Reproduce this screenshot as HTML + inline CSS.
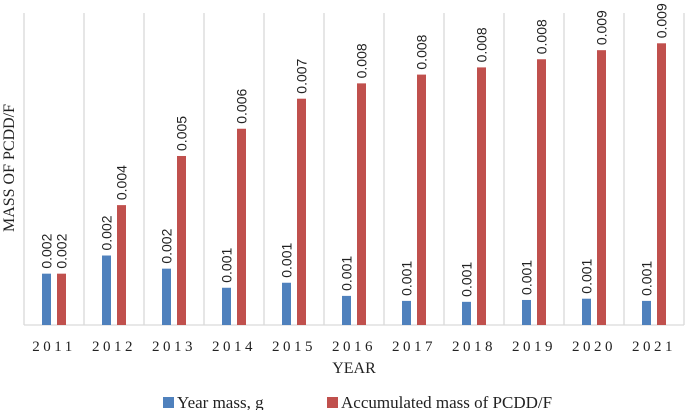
<!DOCTYPE html>
<html><head><meta charset="utf-8"><style>
body{margin:0;background:#fff;}
svg{display:block;}
</style></head><body>
<svg id="chart" width="685" height="410" xmlns="http://www.w3.org/2000/svg">
<g id="grid"></g>
<g id="bars"></g>
<g id="labels"></g>
<g id="xt"></g>
<text x="354" y="373" text-anchor="middle" font-family="Liberation Serif, serif" font-size="16" fill="#222">YEAR</text>
<text transform="translate(14,168) rotate(-90)" text-anchor="middle" font-family="Liberation Serif, serif" font-size="16" fill="#222">MASS OF PCDD/F</text>
<g>
<rect x="163" y="397" width="11" height="11" fill="#4f81bd"/>
<text x="177" y="408" font-family="Liberation Serif, serif" font-size="17" fill="#222">Year mass, g</text>
<rect x="327" y="397" width="11" height="11" fill="#c0504d"/>
<text x="341" y="408" font-family="Liberation Serif, serif" font-size="17" fill="#222">Accumulated mass of PCDD/F</text>
</g>
</svg>
<script>
const categories=["2011","2012","2013","2014","2015","2016","2017","2018","2019","2020","2021"];
const yearMass=[0.00164,0.00222,0.00180,0.00119,0.00135,0.00093,0.00077,0.00074,0.00080,0.00084,0.00077];
const accMass=[0.00164,0.00383,0.00540,0.00627,0.00723,0.00772,0.00800,0.00823,0.00849,0.00878,0.00900];
const yearLabels=["0.002","0.002","0.002","0.001","0.001","0.001","0.001","0.001","0.001","0.001","0.001"];
const accLabels=["0.002","0.004","0.005","0.006","0.007","0.008","0.008","0.008","0.008","0.009","0.009"];
const NS="http://www.w3.org/2000/svg";
const plotLeft=24,plotRight=684,plotBase=325,plotTop=13,yMax=0.01;
const bw=(plotRight-plotLeft)/categories.length;
const xs=i=>plotLeft+i*bw;
const ys=v=>plotBase-v/yMax*(plotBase-plotTop+1);
function mk(t,a,p){const e=document.createElementNS(NS,t);for(const k in a)e.setAttribute(k,a[k]);p.appendChild(e);return e;}
const grid=document.getElementById('grid'),bars=document.getElementById('bars'),labels=document.getElementById('labels'),xt=document.getElementById('xt');
for(let i=0;i<=categories.length;i++){
 const l=mk('line',{x1:xs(i),x2:xs(i),y1:plotTop,y2:plotBase,stroke:'#d9d9d9','stroke-width':1.3},grid);
 
 
}
const ax=mk('line',{x1:plotLeft,x2:plotRight,y1:plotBase,y2:plotBase,stroke:'#d9d9d9','stroke-width':1.3},grid);


function label(cx,v,txt){
 const t=mk('text',{transform:`translate(${cx+5},${ys(v)-5}) rotate(-90)`,'font-family':'Liberation Sans, sans-serif','font-size':14,fill:'#222'},labels);
 t.textContent=txt;
 
 
}
categories.forEach((c,i)=>{
 const bx=xs(i)+18,rx=xs(i)+33,w=9;
 const b=mk('rect',{x:bx,y:ys(yearMass[i]),width:w,height:plotBase-ys(yearMass[i]),fill:'#4f81bd'},bars);
 
 
 const r=mk('rect',{x:rx,y:ys(accMass[i]),width:w,height:plotBase-ys(accMass[i]),fill:'#c0504d'},bars);
 
 
 label(bx+w/2,yearMass[i],yearLabels[i]);
 label(rx+w/2,accMass[i],accLabels[i]);
 const t=mk('text',{x:xs(i)+bw/2,y:351,'text-anchor':'middle','font-family':'Liberation Serif, serif','font-size':15,'letter-spacing':'3.5',fill:'#222'},xt);
 t.textContent=c;
 
 
});
</script>
</body></html>
